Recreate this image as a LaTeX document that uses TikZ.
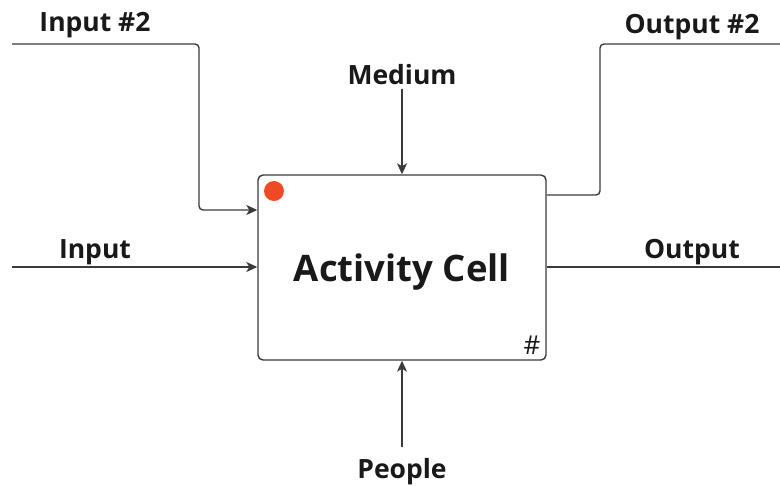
\documentclass[tikz,border=0pt]{standalone}
\usepackage{fontspec}
\setmainfont{Open Sans}
\usetikzlibrary{arrows.meta}
\definecolor{wiregray}{HTML}{3A3A3A}
\definecolor{dotred}{HTML}{F04A25}

\begin{document}
\begin{tikzpicture}[x=1pt, y=-1pt]
\tikzstyle{wire}=[draw=wiregray, line width=1.4pt, rounded corners=4pt]
\tikzstyle{tip}=[-{Stealth[length=11pt, width=10pt, inset=3pt]}]
\tikzstyle{cellbox}=[draw=wiregray, line width=1.4pt, rounded corners=5pt, minimum width=288pt, minimum height=185pt, inner sep=0pt]
\tikzstyle{lbl}=[font=\bfseries\fontsize{26.5}{30}\selectfont, text=black!90]
\useasboundingbox (0,0) rectangle (780,486);

\node[cellbox] (cell) at (402,267.5) {};
\node[font=\bfseries\fontsize{36.5}{42}\selectfont, text=black!90] (title) at (402,272) {Activity Cell};
\node[circle, fill=dotred, minimum size=20pt, inner sep=0pt] (dot) at (274,191) {};
\node[font=\fontsize{26}{30}\selectfont, text=black!90] (hash) at (532,345) {\#};

\node[lbl] (in2) at (95,25) {Input \#2};
\node[lbl] (in) at (95,252) {Input};
\node[lbl] (med) at (402,75) {Medium};
\node[lbl] (out2) at (692,27) {Output \#2};
\node[lbl] (out) at (692,252) {Output};
\node[lbl] (ppl) at (402,472) {People};

\coordinate (in2a) at (12,44);
\coordinate (ina) at (12,267);
\coordinate (out2b) at (780,44);
\coordinate (outb) at (780,267);
\coordinate (pplb) at (402,447);

\draw[wire, tip] (in2a) -| (199,210) -- (cell.west |- 0,210);
\draw[wire, tip] (ina) -- (cell.west |- ina);
\draw[wire, tip] (med.south) -- (cell.north);
\draw[wire] (cell.east |- 0,195) -| (600,44) -- (out2b);
\draw[wire] (cell.east |- outb) -- (outb);
\draw[wire, tip] (pplb) -- (cell.south);
\end{tikzpicture}
\end{document}
